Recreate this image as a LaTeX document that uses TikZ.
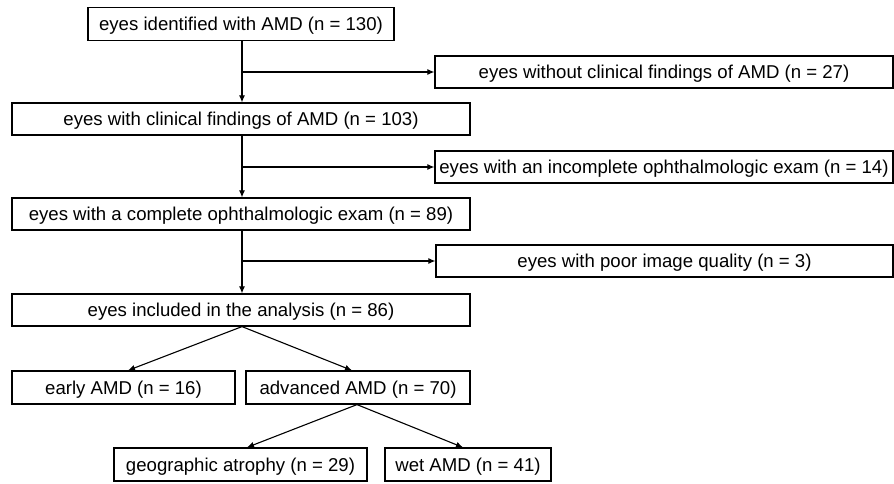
\documentclass[tikz,border=0pt]{standalone}
\usepackage{fontspec}
\setmainfont{Liberation Sans}
\usetikzlibrary{arrows.meta}
\tikzset{
  box/.style={draw=black, line width=1.2pt, inner sep=0pt, align=center,
    font=\fontsize{18.6}{22}\selectfont, text height=13pt, text depth=0pt},
  arr/.style={line width=1.1pt, -{Latex[length=7pt,width=6pt]}},
}
\begin{document}
\begin{tikzpicture}[x=1pt,y=-1pt]
\useasboundingbox (0,0) rectangle (894,483);
\node[box, minimum width=306, minimum height=33] (b1) at (241,24) {eyes identified with AMD (n = 130)};
\node[box, minimum width=458, minimum height=32] (b2) at (664,72) {eyes without clinical findings of AMD (n = 27)};
\node[box, minimum width=458, minimum height=32] (b3) at (241,119) {eyes with clinical findings of AMD (n = 103)};
\node[box, minimum width=458, minimum height=32] (b4) at (664,167) {eyes with an incomplete ophthalmologic exam (n = 14)};
\node[box, minimum width=458, minimum height=32] (b5) at (241,214) {eyes with a complete ophthalmologic exam (n = 89)};
\node[box, minimum width=457, minimum height=32] (b6) at (664.5,261) {eyes with poor image quality (n = 3)};
\node[box, minimum width=458, minimum height=32] (b7) at (241,310) {eyes included in the analysis (n = 86)};
\node[box, minimum width=223, minimum height=33] (b8) at (123.5,387.5) {early AMD (n = 16)};
\node[box, minimum width=224, minimum height=33] (b9) at (358,387.5) {advanced AMD (n = 70)};
\node[box, minimum width=253, minimum height=33] (b10) at (240.5,464.5) {geographic atrophy (n = 29)};
\node[box, minimum width=166, minimum height=33] (b11) at (468,464.5) {wet AMD (n = 41)};
\coordinate (t1) at (242,41);
\coordinate (t2) at (242,135);
\coordinate (t3) at (242,230);
\coordinate (j1) at (242,72);
\coordinate (j2) at (242,167);
\coordinate (j3) at (242,261);
\draw[arr] (t1) -- (t1 |- b3.north);
\draw[arr] (j1) -- (b2.west);
\draw[arr] (t2) -- (t2 |- b5.north);
\draw[arr] (j2) -- (b4.west);
\draw[arr] (t3) -- (t3 |- b7.north);
\draw[arr] (j3) -- (b6.west);
\draw[arr] ([xshift=1pt]b7.south) -- ([xshift=4.5pt]b8.north);
\draw[arr] ([xshift=1pt]b7.south) -- ([xshift=-6pt]b9.north);
\draw[arr] ([xshift=-1pt]b9.south) -- ([xshift=6.5pt]b10.north);
\draw[arr] ([xshift=-1pt]b9.south) -- ([xshift=-5pt]b11.north);
\end{tikzpicture}
\end{document}
